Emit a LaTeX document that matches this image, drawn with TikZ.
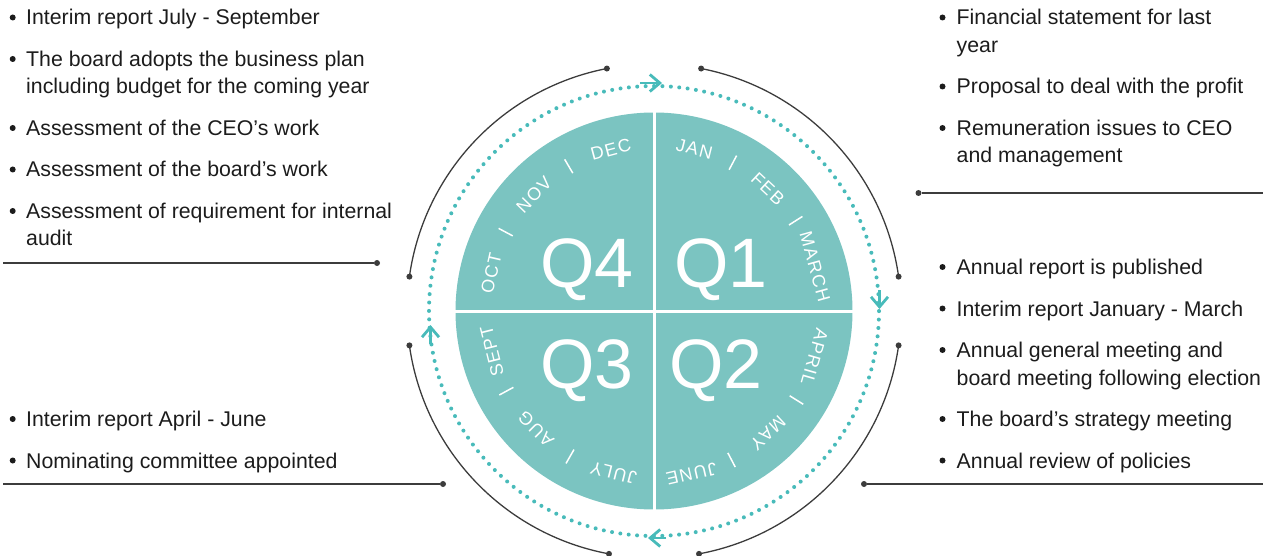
\documentclass[tikz,border=0pt]{standalone}
\usepackage{fontspec}
\setmainfont{Liberation Sans}
\newfontfamily\monthfont[LetterSpace=8]{Liberation Sans}
\usetikzlibrary{arrows.meta,calc}
\definecolor{pie}{RGB}{123,196,193}
\definecolor{dotc}{RGB}{72,187,186}
\definecolor{ink}{RGB}{28,28,28}
\definecolor{rule}{RGB}{60,60,60}
\begin{document}
\begin{tikzpicture}[x=1pt,y=1pt,
 item/.style={anchor=base west,inner sep=0pt,font=\fontsize{21.3}{25}\selectfont,text=ink},
 bul/.style={circle,fill=ink,inner sep=0pt,minimum size=6pt},
 qlab/.style={anchor=base,inner sep=0pt,text=white,font=\fontsize{70}{70}\selectfont},
 month/.style={inner sep=0pt,text=white,font=\monthfont\fontsize{18}{18}\selectfont},
 sepline/.style={white,line width=1.5pt},
 guide/.style={rule,line width=1.3pt},
 enddot/.style={circle,fill=rule,inner sep=0pt,minimum size=6pt},
 cyc/.style={dotc,line width=2.8pt,-{Straight Barb[length=10pt,width=17pt]}}
]
\useasboundingbox (0,0) rectangle (1263,555);
\coordinate (c) at (654,244);
% pie
\fill[pie] (c) circle (198.5);
\draw[white,line width=3pt] ($(c)+(0,201)$) -- ($(c)+(0,-201)$);
\draw[white,line width=3pt] ($(c)+(-201,0)$) -- ($(c)+(201,0)$);
% Q labels
\node[qlab] (q4) at (587,268) {Q4};
\node[qlab] (q1) at (721,268) {Q1};
\node[qlab] (q3) at (587,167) {Q3};
\node[qlab] (q2) at (716,167) {Q2};
% months
\foreach \m/\a [count=\i] in {JAN/76,FEB/47,MARCH/15.5,APRIL/-16,MAY/-47,JUNE/-77,JULY/256,AUG/225,SEPT/194,OCT/167,NOV/136,DEC/105}{
  \node[month,rotate=\a-90] (m\i) at ($(c)+(\a:167)$) {\m};
}
\foreach \a in {62,32.5,-32,-62.5,240,208.5,152,120.5}{
  \draw[sepline] ($(c)+(\a:160)$) -- ($(c)+(\a:176)$);
}
% dotted cycle
\draw[dotc,line width=4pt,line cap=round,dash pattern=on 0pt off 8.415pt] (c) circle (225);
\coordinate (t1) at (640,472); \coordinate (h1) at (662,472);
\coordinate (t2) at (879.5,265); \coordinate (h2) at (879.5,246);
\coordinate (t3) at (666,17); \coordinate (h3) at (648,17);
\coordinate (t4) at (430.5,211); \coordinate (h4) at (430.5,230);
\draw[cyc] (t1) -- (h1);
\draw[cyc] (t2) -- (h2);
\draw[cyc] (t3) -- (h3);
\draw[cyc] (t4) -- (h4);
% outer arcs
\draw[guide] ($(c)+(8:247)$) coordinate (a1s) arc[start angle=8,end angle=79,radius=247] coordinate (a1e);
\draw[guide] ($(c)+(101:247)$) coordinate (a4s) arc[start angle=101,end angle=172,radius=247] coordinate (a4e);
\draw[guide] ($(c)+(188:247)$) coordinate (a3s) arc[start angle=188,end angle=259.5,radius=247] coordinate (a3e);
\draw[guide] ($(c)+(280.5:247)$) coordinate (a2s) arc[start angle=280.5,end angle=352,radius=247] coordinate (a2e);
\foreach \p in {a1s,a1e,a2s,a2e,a3s,a3e,a4s,a4e}{ \node[enddot] at (\p) {}; }
% horizontal rules
\node[enddot] (d1) at (377,292) {};
\node[enddot] (d2) at (918.5,362) {};
\node[enddot] (d3) at (443,71) {};
\node[enddot] (d4) at (864,71) {};
\coordinate (e1) at (3,292); \coordinate (e2) at (1263,362);
\coordinate (e3) at (3,71); \coordinate (e4) at (1263,71);
\draw[guide] (e1) -- (d1);
\draw[guide] (d2) -- (e2);
\draw[guide] (e3) -- (d3);
\draw[guide] (d4) -- (e4);
% left top list
\foreach \y in {537.5,496,427,385.5,344}{ \node[bul] at (12.7,\y) {}; }
\node[item] (l1) at (26,530) {Interim report July - September};
\node[item] (l2a) at (26,488.5) {The board adopts the business plan};
\node[item] (l2b) at (26,461) {including budget for the coming year};
\node[item] (l3) at (26,419.5) {Assessment of the CEO’s work};
\node[item] (l4) at (26,378) {Assessment of the board’s work};
\node[item] (l5a) at (26,336.5) {Assessment of requirement for internal};
\node[item] (l5b) at (26,309) {audit};
% right top list
\foreach \y in {537.5,468.5,427}{ \node[bul] at (942.5,\y) {}; }
\node[item] (r1a) at (956.5,530) {Financial statement for last};
\node[item] (r1b) at (956.5,502.5) {year};
\node[item] (r2) at (956.5,461) {Proposal to deal with the profit};
\node[item] (r3a) at (956.5,419.5) {Remuneration issues to CEO};
\node[item] (r3b) at (956.5,392) {and management};
% right bottom list
\foreach \y in {288,246.5,205,136,94.5}{ \node[bul] at (942.5,\y) {}; }
\node[item] (s1) at (956.5,280.5) {Annual report is published};
\node[item] (s2) at (956.5,239) {Interim report January - March};
\node[item] (s3a) at (956.5,197.5) {Annual general meeting and};
\node[item] (s3b) at (956.5,170) {board meeting following election};
\node[item] (s4) at (956.5,128.5) {The board’s strategy meeting};
\node[item] (s5) at (956.5,87) {Annual review of policies};
% left bottom list
\foreach \y in {136,94.5}{ \node[bul] at (12.7,\y) {}; }
\node[item] (u1) at (26,128.5) {Interim report April - June};
\node[item] (u2) at (26,87) {Nominating committee appointed};
\end{tikzpicture}
\end{document}
